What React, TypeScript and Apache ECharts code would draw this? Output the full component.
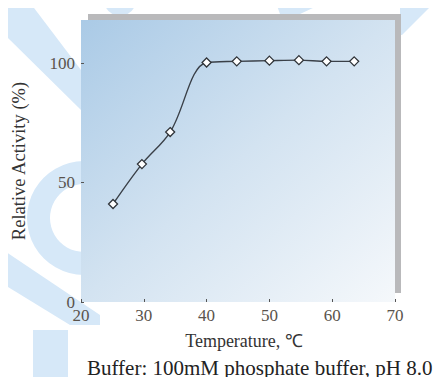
import React, { useEffect, useRef } from "react";
import * as echarts from "echarts";

const temperatures = [25.1, 29.7, 34.2, 40.0, 44.8, 50.0, 54.7, 59.1, 63.5];
const activities = [41, 57.7, 71.1, 100.2, 100.7, 101, 101.2, 100.7, 100.7];
const xTicks = { min: 20, max: 70, interval: 10 };
const yTicks = { min: 0, max: 118, interval: 50 };
const xName = "Temperature, ℃";
const yName = "Relative Activity (%)";
const caption = "Buffer: 100mM phosphate buffer, pH 8.0";

const SERIF = '"Liberation Serif", "Times New Roman", serif';
const WM = "#d6e8f8";

export default function App() {
  const ref = useRef<HTMLDivElement>(null);
  useEffect(() => {
    if (!ref.current) return;
    const chart = echarts.init(ref.current, null, { renderer: "svg" });
    chart.setOption({
      animation: false,
      backgroundColor: "#ffffff",
      grid: {
        left: 81,
        right: 48,
        top: 20,
        bottom: 83,
        show: true,
        borderWidth: 0,
        backgroundColor: new echarts.graphic.LinearGradient(0, 0, 1, 1, [
          { offset: 0, color: "#aacae6" },
          { offset: 0.5, color: "#d3e3f1" },
          { offset: 1, color: "#f5f8fb" },
        ]),
      },
      graphic: [
        // faint watermark shapes in background
        { type: "polygon", z: -30, shape: { points: [[0, 0], [28, 0], [81, 70], [81, 110], [0, 30]] }, style: { fill: WM } },
        { type: "ring", z: -30, shape: { cx: 84, cy: 218, r: 57, r0: 34 }, style: { fill: WM } },
        { type: "polygon", z: -30, shape: { points: [[0, 248], [0, 282], [70, 325], [100, 325], [100, 315]] }, style: { fill: WM } },
        { type: "polygon", z: -30, shape: { points: [[33, 330], [68, 330], [68, 385], [33, 385]] }, style: { fill: WM } },
        { type: "polygon", z: -30, shape: { points: [[400, 0], [437, 0], [402, 35], [400, 35]] }, style: { fill: WM } },
        { type: "polygon", z: -30, shape: { points: [[275, 0], [330, 0], [300, 14], [280, 14]] }, style: { fill: WM } },
        { type: "circle", z: -30, shape: { cx: 120, cy: 0, r: 16 }, style: { fill: WM } },
        // gray frame behind plot
        { type: "rect", z: -10, shape: { x: 88, y: 14, width: 313, height: 279 }, style: { fill: "#b9b9bb" } },
        {
          type: "text",
          left: 87,
          top: 357,
          style: { text: caption, font: `21px ${SERIF}`, fill: "#222222" },
        },
      ],
      xAxis: {
        type: "value",
        min: xTicks.min,
        max: xTicks.max,
        interval: xTicks.interval,
        name: xName,
        nameLocation: "middle",
        nameGap: 30,
        nameTextStyle: { fontFamily: SERIF, fontSize: 18, color: "#333333", padding: [0, 0, 0, 12] },
        axisLine: { show: false },
        axisTick: { show: true, inside: true, length: 3, lineStyle: { color: "#555555" } },
        axisLabel: { fontFamily: SERIF, fontSize: 17, color: "#5a534c", margin: 5 },
        splitLine: { show: false },
      },
      yAxis: {
        type: "value",
        min: yTicks.min,
        max: yTicks.max,
        interval: yTicks.interval,
        name: yName,
        nameLocation: "middle",
        nameGap: 53,
        nameTextStyle: { fontFamily: SERIF, fontSize: 18.5, color: "#333333" },
        axisLine: { show: false },
        axisTick: { show: true, inside: true, length: 3, lineStyle: { color: "#555555" } },
        axisLabel: {
          fontFamily: SERIF,
          fontSize: 17,
          color: "#5a534c",
          margin: 6,
          showMaxLabel: false,
          formatter: (v: number) => (v % 50 === 0 ? String(v) : ""),
        },
        splitLine: { show: false },
      },
      series: [
        {
          type: "line",
          data: temperatures.map((t, i) => [t, activities[i]]),
          smooth: 0.35,
          symbol: "diamond",
          symbolSize: 9,
          showAllSymbol: true,
          lineStyle: { color: "#3a4048", width: 1.4 },
          itemStyle: { color: "#ffffff", borderColor: "#2f3338", borderWidth: 1.3 },
        },
      ],
    });
    return () => chart.dispose();
  }, []);
  return <div ref={ref} style={{ width: 443, height: 385, margin: -8 }} />;
}
